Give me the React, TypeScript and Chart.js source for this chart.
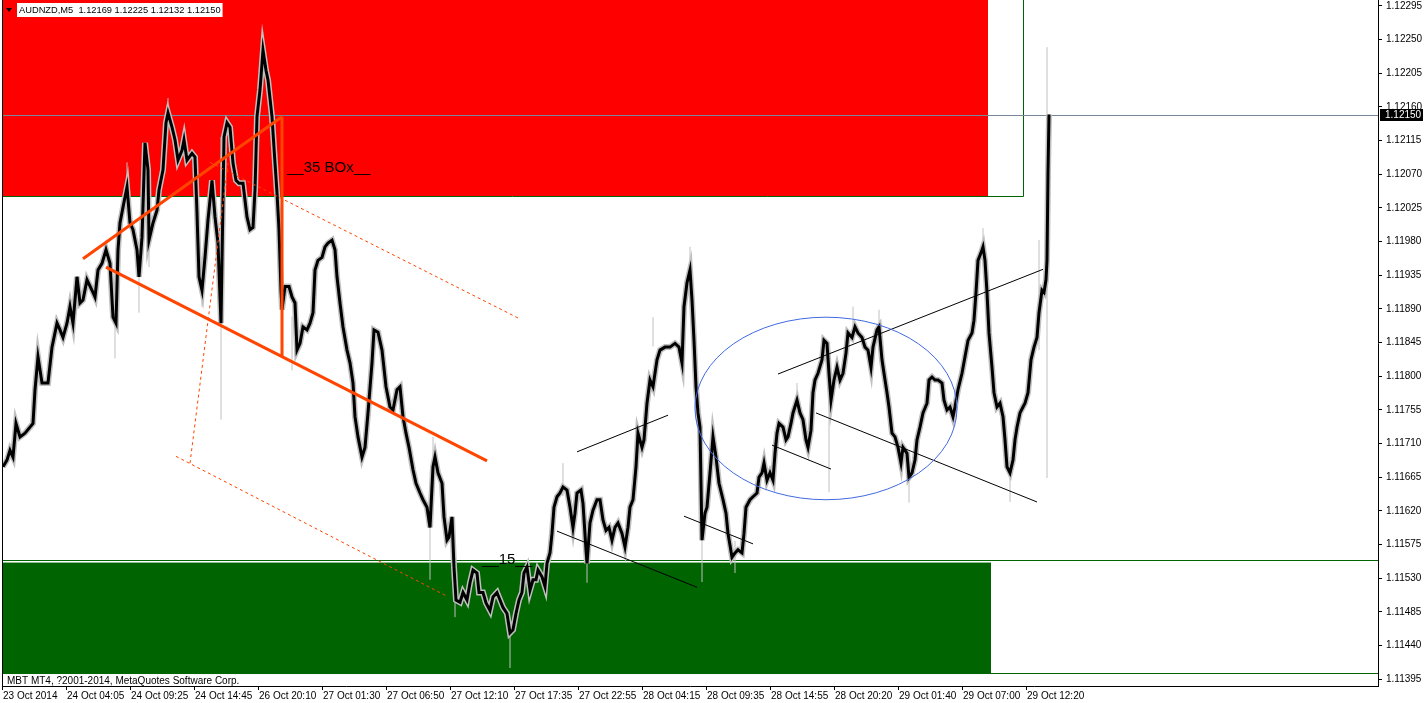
import React, { useEffect, useRef } from "react";
import { Chart, registerables } from "chart.js";

Chart.register(...registerables);

// ---------- DATA ----------
const symbolTitle = "AUDNZD,M5  1.12169 1.12225 1.12132 1.12150";
const copyrightText = "MBT MT4, ?2001-2014, MetaQuotes Software Corp.";

const timeLabels = [
  "23 Oct 2014", "24 Oct 04:05", "24 Oct 09:25", "24 Oct 14:45", "26 Oct 20:10",
  "27 Oct 01:30", "27 Oct 06:50", "27 Oct 12:10", "27 Oct 17:35", "27 Oct 22:55",
  "28 Oct 04:15", "28 Oct 09:35", "28 Oct 14:55", "28 Oct 20:20", "29 Oct 01:40",
  "29 Oct 07:00", "29 Oct 12:20",
];
const timeTickBars = [0, 64, 128, 192, 256, 320, 384, 448, 512, 576, 640, 704, 768, 832, 896, 960, 1024];

const priceTicks = [
  1.11395, 1.1144, 1.11485, 1.1153, 1.11575, 1.1162, 1.11665, 1.1171, 1.11755, 1.118,
  1.11845, 1.1189, 1.11935, 1.1198, 1.12025, 1.1207, 1.12115, 1.1216, 1.12205, 1.1225, 1.12295,
];

const currentPrice = 1.1215;

// sampled bars (bar index) and their close prices
const sampleBars = [
  1, 5, 8, 11, 14, 18, 23, 28, 31, 33, 36, 40, 46, 50, 55, 58, 61, 65, 68, 71,
  75, 78, 81, 85, 90, 93, 96, 100, 104, 108, 111, 114, 116, 118, 121, 125, 128, 131, 135, 137,
  140, 143, 146, 147, 151, 155, 157, 161, 164, 166, 170, 173, 176, 180, 182, 185, 190, 193, 195, 197,
  200, 203, 206, 210, 213, 216, 219, 222, 225, 228, 231, 234, 237, 241, 245, 248, 251, 253, 255, 258,
  261, 264, 266, 270, 273, 275, 277, 279, 280, 283, 287, 290, 293, 295, 298, 301, 305, 308, 311, 313,
  316, 320, 323, 326, 330, 333, 335, 338, 341, 345, 348, 351, 353, 356, 360, 363, 366, 370, 372, 376,
  380, 384, 388, 391, 395, 398, 401, 404, 407, 411, 414, 418, 421, 425, 428, 431, 433, 436, 440, 442,
  445, 447, 450, 452, 454, 458, 461, 465, 468, 471, 475, 477, 481, 484, 488, 491, 495, 498, 501, 505,
  508, 511, 514, 517, 520, 522, 525, 528, 531, 534, 536, 540, 543, 545, 548, 550, 552, 555, 558, 561,
  565, 568, 571, 573, 575, 579, 581, 584, 585, 588, 591, 595, 598, 601, 604, 607, 610, 613, 616, 620,
  623, 626, 628, 631, 634, 636, 640, 642, 645, 648, 651, 655, 658, 663, 668, 673, 677, 680, 682, 685,
  688, 690, 692, 694, 696, 698, 700, 703, 705, 708, 711, 714, 717, 721, 724, 726, 730, 733, 736, 740,
  742, 744, 748, 751, 755, 757, 760, 762, 765, 768, 771, 773, 775, 777, 781, 784, 786, 789, 791, 795,
  798, 801, 804, 806, 809, 811, 813, 816, 820, 822, 825, 827, 829, 832, 835, 838, 841, 844, 846, 850,
  853, 856, 860, 863, 866, 869, 871, 875, 877, 880, 882, 885, 887, 890, 893, 896, 899, 901, 905, 907,
  910, 913, 915, 918, 921, 925, 927, 930, 933, 936, 940, 942, 945, 948, 951, 953, 956, 960, 963, 966,
  970, 972, 974, 976, 979, 981, 983, 985, 987, 990, 992, 995, 998, 1001, 1003, 1005, 1008, 1011, 1013, 1015,
  1018, 1021, 1023, 1026, 1029, 1032, 1035, 1037, 1040, 1042, 1044, 1045, 1046, 1047,
];

const closePrices = [
  1.11679, 1.11688, 1.11701, 1.11692, 1.11737, 1.11719, 1.11724, 1.11732, 1.11737, 1.11782,
  1.11826, 1.11791, 1.11791, 1.11839, 1.11871, 1.11862, 1.11852, 1.11871, 1.11893, 1.11871,
  1.11933, 1.11898, 1.11902, 1.11929, 1.11915, 1.11906, 1.11942, 1.11951, 1.11969, 1.11951,
  1.11879, 1.11871, 1.11969, 1.12005, 1.12026, 1.12053, 1.12005, 1.11996, 1.11969, 1.11933,
  1.11986, 1.12112, 1.12076, 1.11982, 1.12005, 1.12022, 1.12049, 1.12076, 1.12139, 1.12152,
  1.12133, 1.12116, 1.12089, 1.12102, 1.12116, 1.12089, 1.12098, 1.12093, 1.12018, 1.11933,
  1.11915, 1.11959, 1.12009, 1.12062, 1.12013, 1.11978, 1.11871, 1.1212, 1.12139, 1.12133,
  1.12085, 1.12062, 1.12058, 1.12058, 1.12013, 1.11996, 1.11999, 1.12049, 1.12147, 1.12183,
  1.12236, 1.12209, 1.12196, 1.12147, 1.12085, 1.12045, 1.11996, 1.11915, 1.11889, 1.1192,
  1.1192, 1.11906, 1.11898, 1.11835, 1.11844, 1.11866, 1.11862, 1.11871, 1.11885, 1.11942,
  1.11955, 1.11959, 1.11973, 1.11978, 1.11982, 1.11969, 1.11933, 1.11898, 1.11866, 1.11835,
  1.11818, 1.11791, 1.11746, 1.11719, 1.11692, 1.11705, 1.11751, 1.11818, 1.11862, 1.11859,
  1.11835, 1.11786, 1.11759, 1.11755, 1.11782, 1.11786, 1.11746, 1.11724, 1.11705, 1.11675,
  1.11657, 1.11644, 1.11635, 1.11625, 1.11598, 1.11679, 1.11692, 1.11671, 1.11657, 1.11612,
  1.11581, 1.11585, 1.11612, 1.11545, 1.11501, 1.11498, 1.11511, 1.11501, 1.11524, 1.11541,
  1.11537, 1.11511, 1.11511, 1.11497, 1.11487, 1.11505, 1.11511, 1.11501, 1.11491, 1.11483,
  1.11457, 1.11461, 1.11483, 1.11501, 1.11511, 1.11537, 1.11545, 1.11514, 1.11528, 1.11528,
  1.11541, 1.11532, 1.11519, 1.1155, 1.11564, 1.1159, 1.11625, 1.11639, 1.11644, 1.11652,
  1.11648, 1.11625, 1.11598, 1.11617, 1.11644, 1.11648, 1.1163, 1.11568, 1.1155, 1.11604,
  1.11621, 1.11635, 1.11635, 1.11608, 1.11594, 1.11598, 1.11581, 1.11598, 1.11604, 1.1159,
  1.11572, 1.11598, 1.11625, 1.11635, 1.11679, 1.11724, 1.11705, 1.11715, 1.11764, 1.11795,
  1.11786, 1.11822, 1.11835, 1.11839, 1.11839, 1.11844, 1.11839, 1.11818, 1.11893, 1.11925,
  1.11942, 1.11902, 1.11848, 1.11786, 1.11751, 1.11732, 1.11581, 1.11617, 1.11625, 1.11671,
  1.11719, 1.11692, 1.11657, 1.11635, 1.11617, 1.1159, 1.11558, 1.11564, 1.11568, 1.11564,
  1.1159, 1.11625, 1.11635, 1.11639, 1.11644, 1.11665, 1.11671, 1.11684, 1.11661, 1.11671,
  1.11661, 1.11697, 1.11724, 1.11737, 1.11732, 1.11715, 1.11719, 1.11737, 1.11751, 1.11768,
  1.11751, 1.11742, 1.11715, 1.11705, 1.11728, 1.11778, 1.11795, 1.11804, 1.11822, 1.11848,
  1.11844, 1.11804, 1.11768, 1.11795, 1.11812, 1.11795, 1.11804, 1.11831, 1.11858, 1.11852,
  1.11866, 1.11858, 1.11852, 1.11839, 1.11835, 1.11812, 1.11839, 1.11862, 1.11866, 1.11822,
  1.11804, 1.11778, 1.11759, 1.11724, 1.11719, 1.11705, 1.11684, 1.11705, 1.11697, 1.11665,
  1.11671, 1.11688, 1.11715, 1.11732, 1.11751, 1.11764, 1.11795, 1.11799, 1.11795, 1.11795,
  1.11791, 1.11768, 1.11755, 1.11759, 1.11746, 1.11759, 1.11782, 1.11804, 1.11826, 1.11848,
  1.11858, 1.11875, 1.11912, 1.11955, 1.11965, 1.11973, 1.11955, 1.11912, 1.11858, 1.11812,
  1.11778, 1.11759, 1.11764, 1.11746, 1.11715, 1.11679, 1.11671, 1.11688, 1.11715, 1.11732,
  1.11751, 1.11759, 1.11764, 1.11778, 1.11822, 1.11839, 1.11852, 1.11885, 1.11915, 1.11912,
  1.11929, 1.11955, 1.12072, 1.1215,
];

// prominent high/low shadows
const wickBars = [36, 113, 125, 137, 147, 166, 200, 219, 261, 290, 428, 431, 453, 508, 561, 585, 651, 688, 700, 733, 795, 827, 851, 877, 907, 981, 1008, 1037, 1045];
const wickHighs = [1.11844, 1.1188, 1.12086, 1.1194, 1.1201, 1.12172, 1.1196, 1.1212, 1.1225, 1.1188, 1.116, 1.11719, 1.1152, 1.1147, 1.11684, 1.1157, 1.11879, 1.11973, 1.116, 1.1158, 1.11791, 1.1181, 1.11893, 1.11889, 1.1168, 1.11998, 1.1168, 1.11982, 1.1224];
const wickLows = [1.118, 1.11824, 1.1204, 1.11885, 1.11946, 1.1214, 1.11893, 1.11742, 1.12209, 1.11808, 1.11528, 1.1168, 1.11478, 1.1141, 1.1164, 1.11524, 1.1184, 1.1193, 1.11525, 1.11537, 1.1176, 1.11645, 1.1185, 1.1185, 1.11631, 1.1196, 1.11632, 1.11835, 1.11664];

// drawn objects (bar index, price)
const orangeSolidLines = [
  [81, 1.11957, 280, 1.12147],
  [280, 1.12147, 280, 1.11826],
  [104, 1.11946, 485, 1.11687],
];
const orangeDashedLines = [
  [208, 1.12086, 516, 1.11878],
  [174, 1.11693, 445, 1.11506],
  [188, 1.11684, 226, 1.12085],
];
const blackTrendLines = [
  [575, 1.11699, 666, 1.11748],
  [555, 1.11593, 695, 1.11518],
  [682, 1.11613, 751, 1.11576],
  [770, 1.11708, 829, 1.11676],
  [776, 1.11803, 1041, 1.11943],
  [814, 1.11751, 1035, 1.11632],
];
const redZone = { x0: -2, x1: 986, top: 1.12303, bottom: 1.12041 };
const redZoneOutline = { x0: -2, x1: 1021, top: 1.12303, bottom: 1.12041 };
const greenZone = { x0: -2, x1: 989, top: 1.11551, bottom: 1.11402 };
const greenZoneLines = [1.11554, 1.11403];
const ellipseObj = { bar: 824, price: 1.11757, rBars: 131, rPrice: 0.00122 };
const textObjects = [
  { text: "__35 BOx__", bar: 285, price: 1.12073 },
  { text: "__15__", bar: 480, price: 1.11549 },
];

// ---------- CHART ----------
const FONT = '"Liberation Sans", Arial, sans-serif';

const toSeg = (l: number[]) => [
  { x: l[0], y: l[1] },
  { x: l[2], y: l[3] },
];

const zonesPlugin = {
  id: "zones",
  beforeDatasetsDraw(chart: any) {
    const { ctx, chartArea: a } = chart;
    const X = (v: number) => chart.scales.x.getPixelForValue(v);
    const Y = (v: number) => chart.scales.y.getPixelForValue(v);
    ctx.save();
    ctx.beginPath();
    ctx.rect(a.left, a.top, a.right - a.left, a.bottom - a.top);
    ctx.clip();
    ctx.fillStyle = "#FF0000";
    ctx.fillRect(X(redZone.x0), Y(redZone.top) - 2, X(redZone.x1) - X(redZone.x0), Y(redZone.bottom) - Y(redZone.top) + 2);
    ctx.strokeStyle = "#006400";
    ctx.lineWidth = 1;
    const ox1 = Math.round(X(redZoneOutline.x1)) + 0.5;
    const oyb = Math.round(Y(redZoneOutline.bottom)) + 0.5;
    ctx.beginPath();
    ctx.moveTo(X(redZoneOutline.x0), oyb);
    ctx.lineTo(ox1, oyb);
    ctx.lineTo(ox1, Y(redZoneOutline.top) - 2);
    ctx.stroke();
    ctx.fillStyle = "#006400";
    ctx.fillRect(X(greenZone.x0), Y(greenZone.top), X(greenZone.x1) - X(greenZone.x0), Y(greenZone.bottom) - Y(greenZone.top));
    greenZoneLines.forEach((p) => {
      const yy = Math.round(Y(p)) + 0.5;
      ctx.beginPath();
      ctx.moveTo(a.left, yy);
      ctx.lineTo(a.right, yy);
      ctx.stroke();
    });
    ctx.strokeStyle = "#778899";
    const yc = Math.round(Y(currentPrice)) + 1.5;
    ctx.beginPath();
    ctx.moveTo(a.left, yc);
    ctx.lineTo(a.right, yc);
    ctx.stroke();
    ctx.restore();
  },
};

const overlayPlugin = {
  id: "overlay",
  afterDatasetsDraw(chart: any) {
    const { ctx, chartArea: a } = chart;
    const X = (v: number) => chart.scales.x.getPixelForValue(v);
    const Y = (v: number) => chart.scales.y.getPixelForValue(v);
    ctx.save();
    ctx.beginPath();
    ctx.rect(a.left, a.top, a.right - a.left, a.bottom - a.top);
    ctx.clip();
    const cx = X(ellipseObj.bar);
    const cy = Y(ellipseObj.price);
    const rx = X(ellipseObj.bar + ellipseObj.rBars) - cx;
    const ry = Y(ellipseObj.price - ellipseObj.rPrice) - cy;
    ctx.strokeStyle = "#4169E1";
    ctx.lineWidth = 1;
    ctx.beginPath();
    ctx.ellipse(cx, cy, rx, ry, 0, 0, Math.PI * 2);
    ctx.stroke();
    ctx.fillStyle = "#000";
    ctx.font = `15px ${FONT}`;
    ctx.textAlign = "left";
    ctx.textBaseline = "alphabetic";
    textObjects.forEach((t) => ctx.fillText(t.text, X(t.bar), Y(t.price)));
    ctx.restore();
  },
  afterDraw(chart: any) {
    const { ctx, chartArea: a } = chart;
    const Y = (v: number) => chart.scales.y.getPixelForValue(v);
    ctx.save();
    ctx.fillStyle = "#000";
    ctx.fillRect(a.left, 0, 1, a.bottom);
    // header
    ctx.font = `9.3px ${FONT}`;
    const w = ctx.measureText(symbolTitle).width;
    ctx.fillStyle = "#fff";
    ctx.fillRect(17, 3, w + 4, 14);
    ctx.fillStyle = "#000";
    ctx.beginPath();
    ctx.moveTo(6, 8);
    ctx.lineTo(12, 8);
    ctx.lineTo(9, 12);
    ctx.closePath();
    ctx.fill();
    ctx.textBaseline = "middle";
    ctx.textAlign = "left";
    ctx.fillText(symbolTitle, 19, 10.5);
    // current price label
    ctx.font = `10px ${FONT}`;
    const yp = Math.round(Y(currentPrice)) + 1;
    ctx.fillStyle = "#000";
    ctx.fillRect(a.right + 2, yp - 6, 43, 12);
    ctx.fillStyle = "#fff";
    ctx.fillText(currentPrice.toFixed(5), a.right + 7, yp + 0.5);
    // copyright
    ctx.fillStyle = "#000";
    ctx.fillText(copyrightText, 7, a.bottom - 5);
    ctx.restore();
  },
};

export default function App() {
  const ref = useRef<HTMLCanvasElement | null>(null);
  useEffect(() => {
    if (!ref.current) return;
    const closeData = sampleBars.map((b, i) => ({ x: b, y: closePrices[i] }));
    const wickData: any[] = [];
    wickBars.forEach((b, i) => {
      wickData.push({ x: b, y: wickLows[i] }, { x: b, y: wickHighs[i] }, { x: b, y: null });
    });
    const datasets: any[] = [
      { data: closeData, borderColor: "#000000", borderWidth: 3, pointRadius: 0, order: 2 },
      { data: wickData, borderColor: "#C0C0C0", borderWidth: 1, pointRadius: 0, spanGaps: false, order: 3 },
      { data: closeData, borderColor: "#C0C0C0", borderWidth: 6, pointRadius: 0, order: 4 },
    ];
    orangeSolidLines.forEach((l) =>
      datasets.push({ data: toSeg(l), borderColor: "#FF4500", borderWidth: 3, pointRadius: 0, order: 0 })
    );
    orangeDashedLines.forEach((l) =>
      datasets.push({ data: toSeg(l), borderColor: "#FF4500", borderWidth: 1, borderDash: [3, 3], pointRadius: 0, order: 0 })
    );
    blackTrendLines.forEach((l) =>
      datasets.push({ data: toSeg(l), borderColor: "#000000", borderWidth: 1, pointRadius: 0, order: 1 })
    );

    const tickFont = { family: FONT, size: 10 };
    const chart = new Chart(ref.current, {
      type: "line",
      data: { datasets },
      options: {
        animation: false,
        responsive: false,
        events: [],
        layout: { padding: { left: 2, top: 0, right: 0, bottom: 0 } },
        plugins: { legend: { display: false }, tooltip: { enabled: false } },
        elements: { line: { tension: 0 } },
        scales: {
          x: {
            type: "linear",
            position: "bottom",
            min: 0,
            max: 1376,
            afterBuildTicks: (s: any) => {
              s.ticks = timeTickBars.map((v) => ({ value: v }));
            },
            afterFit: (s: any) => {
              s.height = 17;
              s.paddingLeft = 0;
              s.paddingRight = 0;
            },
            ticks: {
              autoSkip: false,
              maxRotation: 0,
              minRotation: 0,
              align: "start",
              labelOffset: 1,
              padding: 0,
              font: tickFont,
              color: "#000",
              callback: (_v: any, i: number) => timeLabels[i],
            },
            grid: { drawOnChartArea: false, drawTicks: true, tickLength: 4, color: "#000" },
            border: { display: true, color: "#000" },
          },
          y: {
            type: "linear",
            position: "right",
            min: 1.11386,
            max: 1.12303,
            afterBuildTicks: (s: any) => {
              s.ticks = priceTicks.map((v) => ({ value: v }));
            },
            afterFit: (s: any) => {
              s.width = 46;
              s.paddingTop = 0;
              s.paddingBottom = 0;
            },
            ticks: {
              autoSkip: false,
              padding: 4,
              font: tickFont,
              color: "#000",
              callback: (v: any) => Number(v).toFixed(5),
            },
            grid: { drawOnChartArea: false, drawTicks: true, tickLength: 4, color: "#000" },
            border: { display: true, color: "#000" },
          },
        },
      } as any,
      plugins: [zonesPlugin, overlayPlugin],
    });
    return () => chart.destroy();
  }, []);

  return (
    <div style={{ position: "fixed", left: 0, top: 0, width: 1424, height: 703, background: "#fff" }}>
      <canvas ref={ref} width={1424} height={703} style={{ display: "block" }} />
    </div>
  );
}
